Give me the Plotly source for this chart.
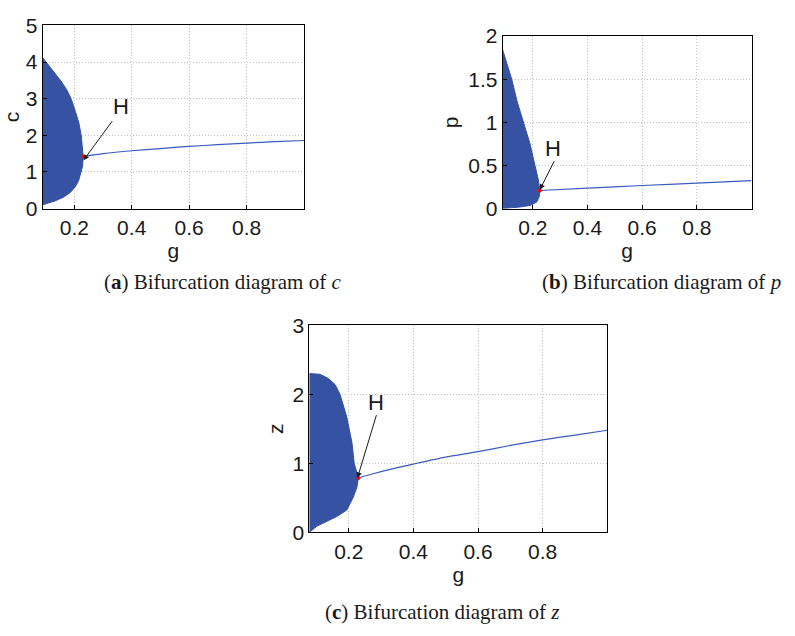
import plotly.graph_objects as go

# ---------------- data ----------------
# (a) c : limit-cycle envelope (max branch then min branch) and steady-state branch
ga_upper = [0.09, 0.104, 0.127, 0.154, 0.174, 0.189, 0.204, 0.216, 0.224, 0.229, 0.231]
ca_upper = [4.12, 3.98, 3.74, 3.48, 3.24, 3.0, 2.65, 2.34, 2.0, 1.68, 1.42]
ga_lower = [0.231, 0.229, 0.224, 0.215, 0.203, 0.186, 0.162, 0.133, 0.104, 0.09]
ca_lower = [1.42, 1.16, 1.0, 0.76, 0.59, 0.44, 0.31, 0.21, 0.14, 0.1]
ga_line = [0.231, 0.3, 0.4, 0.5, 0.6, 0.7, 0.8, 0.9, 1.0]
ca_line = [1.42, 1.50, 1.58, 1.64, 1.70, 1.745, 1.79, 1.83, 1.86]

# (b) p
gb_upper = [0.09, 0.123, 0.143, 0.165, 0.19, 0.208, 0.22, 0.226]
pb_upper = [1.84, 1.50, 1.24, 1.0, 0.75, 0.5, 0.34, 0.21]
gb_lower = [0.226, 0.224, 0.214, 0.19, 0.153, 0.094, 0.09]
pb_lower = [0.21, 0.14, 0.075, 0.037, 0.019, 0.004, 0.0]
gb_line = [0.226, 0.4, 0.6, 0.8, 1.0]
pb_line = [0.21, 0.238, 0.268, 0.296, 0.324]

# (c) z
gc_upper = [0.078, 0.111, 0.137, 0.158, 0.173, 0.194, 0.21, 0.217, 0.23]
zc_upper = [2.3, 2.29, 2.23, 2.14, 2.0, 1.67, 1.30, 1.0, 0.79]
gc_lower = [0.23, 0.225, 0.214, 0.194, 0.163, 0.132, 0.101, 0.078]
zc_lower = [0.79, 0.65, 0.51, 0.325, 0.23, 0.16, 0.09, 0.0]
gc_line = [0.23, 0.25, 0.3, 0.35, 0.4, 0.5, 0.6, 0.7, 0.8, 0.9, 1.0]
zc_line = [0.79, 0.817, 0.88, 0.938, 0.99, 1.09, 1.17, 1.26, 1.34, 1.41, 1.48]

hopf = {"a": (0.231, 1.42), "b": (0.226, 0.21), "c": (0.23, 0.79)}

x_ticks = [0.2, 0.4, 0.6, 0.8]
ya_ticks = [0, 1, 2, 3, 4, 5]
yb_ticks = [0, 0.5, 1, 1.5, 2]
yc_ticks = [0, 1, 2, 3]

captions = [
    "(<b>a</b>) Bifurcation diagram of <i>c</i>",
    "(<b>b</b>) Bifurcation diagram of <i>p</i>",
    "(<b>c</b>) Bifurcation diagram of <i>z</i>",
]

# ---------------- figure ----------------
W, H = 795, 636
BLUE = "#3552a3"
LINEBLUE = "#3a5bc0"

fig = go.Figure()

panels = [
    ("x", "y", ga_upper, ca_upper, ga_lower, ca_lower, ga_line, ca_line, hopf["a"]),
    ("x2", "y2", gb_upper, pb_upper, gb_lower, pb_lower, gb_line, pb_line, hopf["b"]),
    ("x3", "y3", gc_upper, zc_upper, gc_lower, zc_lower, gc_line, zc_line, hopf["c"]),
]
for xa, ya, gu, vu, gl, vl, gline, vline, hp in panels:
    fig.add_trace(go.Scatter(
        x=gu + gl, y=vu + vl, xaxis=xa, yaxis=ya, mode="lines",
        fill="toself", fillcolor=BLUE, line=dict(color=BLUE, width=1),
        hoverinfo="skip", showlegend=False))
    fig.add_trace(go.Scatter(
        x=gline, y=vline, xaxis=xa, yaxis=ya, mode="lines",
        line=dict(color=LINEBLUE, width=1.2, shape="spline", smoothing=0.6),
        showlegend=False))
    fig.add_trace(go.Scatter(
        x=[hp[0]], y=[hp[1]], xaxis=xa, yaxis=ya, mode="markers",
        marker=dict(color="red", size=4), showlegend=False))


def px2fx(px):
    return px / W


def py2fy(py):
    return 1 - py / H


SANS = "Liberation Sans, Arial, sans-serif"
tickfont = dict(family=SANS, size=21, color="#1a1a1a")
titlefont = dict(family=SANS, size=21, color="#1a1a1a")
GRID = dict(showgrid=True, gridcolor="#c2c2c2", griddash="1px,2px", gridwidth=1)


def xaxis(domain, rng, anchor):
    return dict(domain=domain, range=rng, anchor=anchor, tickvals=x_ticks,
                ticks="inside", ticklen=4, tickcolor="black",
                showline=True, linecolor="black", linewidth=1, mirror=True,
                zeroline=False, tickfont=tickfont,
                title=dict(text="g", font=titlefont, standoff=0), **GRID)


def yaxis(domain, rng, anchor, tv, title):
    return dict(domain=domain, range=rng, anchor=anchor, tickvals=tv,
                ticks="inside", ticklen=4, tickcolor="black",
                showline=True, linecolor="black", linewidth=1, mirror=True,
                zeroline=False, tickfont=tickfont,
                title=dict(text=title, font=titlefont, standoff=3), **GRID)


fig.update_layout(
    width=W, height=H, margin=dict(l=0, r=0, t=0, b=0),
    paper_bgcolor="white", plot_bgcolor="white", showlegend=False,
    xaxis=xaxis([px2fx(42.7), px2fx(304)], [0.09, 1.0], "y"),
    yaxis=yaxis([py2fy(204), py2fy(14)], [0, 5], "x", ya_ticks, "c"),
    xaxis2=xaxis([px2fx(502.7), px2fx(751.5)], [0.09, 1.0], "y2"),
    yaxis2=yaxis([py2fy(204), py2fy(25)], [0, 2], "x2", yb_ticks, "p"),
    xaxis3=xaxis([px2fx(309.3), px2fx(607.3)], [0.078, 1.0], "y3"),
    yaxis3=yaxis([py2fy(540), py2fy(325)], [0, 3], "x3", yc_ticks, "z"),
)

# Hopf annotations: arrow from label to the Hopf point
arrows = [
    ("x", "y", (0.336, 2.43), (0.232, 1.32), (0.362, 2.78)),
    ("x2", "y2", (0.281, 0.566), (0.226, 0.22), (0.275, 0.696)),
    ("x3", "y3", (0.287, 1.72), (0.227, 0.79), (0.285, 1.88)),
]
for xa, ya, tail, head, txt in arrows:
    fig.add_annotation(x=head[0], y=head[1], ax=tail[0], ay=tail[1],
                       xref=xa, yref=ya, axref=xa, ayref=ya, text="",
                       showarrow=True, arrowhead=2, arrowsize=1.1, arrowwidth=1,
                       arrowcolor="#1a1a1a")
    fig.add_annotation(x=txt[0], y=txt[1], xref=xa, yref=ya, text="H",
                       showarrow=False, font=dict(family=SANS, size=22, color="#1a1a1a"))

capfont = dict(family="Liberation Serif, Times New Roman, serif", size=21, color="#1a1a1a")
for text, cx, cy in zip(captions, [222, 661, 442], [280, 280, 622]):
    fig.add_annotation(x=px2fx(cx), y=py2fy(cy), xref="paper", yref="paper",
                       text=text, showarrow=False, font=capfont,
                       xanchor="center", yanchor="middle")

fig.write_html("out.html")
